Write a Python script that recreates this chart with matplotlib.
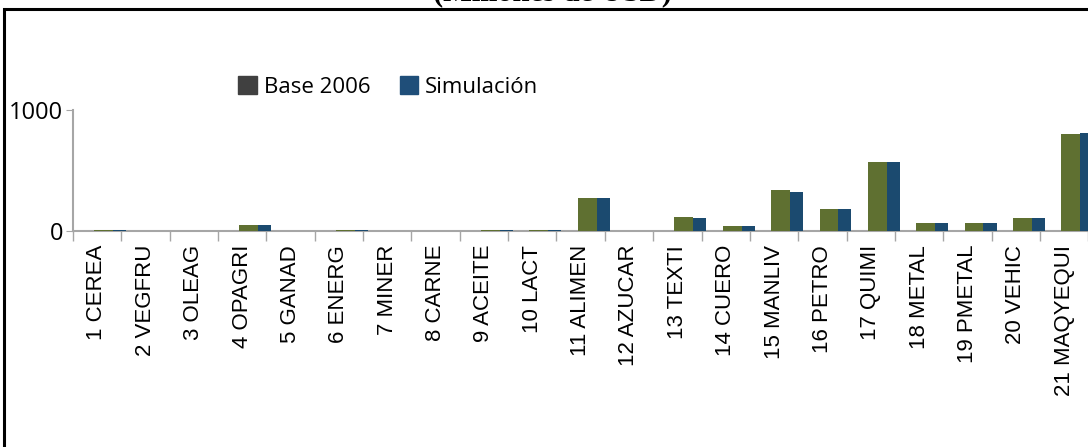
import numpy as np
import matplotlib
matplotlib.use('Agg')
import matplotlib.pyplot as plt
from matplotlib.patches import Patch, Rectangle

# sectors and values (millones de USD)
sectors = ['1 CEREA', '2 VEGFRU', '3 OLEAG', '4 OPAGRI', '5 GANAD', '6 ENERG',
           '7 MINER', '8 CARNE', '9 ACEITE', '10 LACT', '11 ALIMEN', '12 AZUCAR',
           '13 TEXTI', '14 CUERO', '15 MANLIV', '16 PETRO', '17 QUIMI', '18 METAL',
           '19 PMETAL', '20 VEHIC', '21 MAQYEQUI']
base_2006 = [12, 4, 4, 47, 4, 11, 4, 4, 12, 12, 271, 0, 112, 38, 342, 178, 574, 63, 63, 104, 803]
simulacion = [12, 4, 4, 47, 4, 11, 4, 4, 12, 12, 271, 0, 104, 38, 326, 178, 574, 63, 63, 104, 811]

green = '#5f7031'
blue = '#1b4a6f'
grey = '#a6a6a6'

fig = plt.figure(figsize=(10.88, 4.47), dpi=100)
ax = fig.add_axes([0.0669, 0.4832, 0.9335, 0.2707])

x = np.arange(len(sectors))
ax.bar(x - 0.06, base_2006, width=0.39, align='edge', color=green, zorder=3)
ax.bar(x + 0.33, simulacion, width=0.27, align='edge', color=blue, zorder=3)

ax.set_xlim(-0.5, len(sectors) - 0.5)
ax.set_ylim(0, 1000)
ax.set_yticks([0, 1000])
ax.set_yticklabels(['0', '1000'], fontsize=17, family='Open Sans')
ax.tick_params(axis='y', length=5, color=grey, pad=2)

ax.set_xticks(x)
ax.set_xticklabels(sectors, rotation=90, fontsize=16, family='Liberation Sans')
ax.tick_params(axis='x', which='major', length=0, pad=10)
ax.set_xticks(np.arange(len(sectors) + 1) - 0.5, minor=True)
ax.tick_params(axis='x', which='minor', length=7, color=grey, width=1)

for s in ['top', 'right']:
    ax.spines[s].set_visible(False)
for s in ['left', 'bottom']:
    ax.spines[s].set_color(grey)
    ax.spines[s].set_linewidth(1.5)

handles = [Patch(color='#404040', label='Base 2006'), Patch(color='#1f4e79', label='Simulación')]
fig.legend(handles=handles, loc='center', bbox_to_anchor=(0.357, 0.805), ncol=2,
           frameon=False, prop={'family': 'Open Sans', 'size': 16},
           handlelength=0.85, handleheight=0.85, handletextpad=0.3, columnspacing=1.3)

fig.text(0.508, 0.984, '(Millones de USD)', ha='center', va='bottom',
         fontsize=22, fontweight='bold', family='Liberation Serif')

fig.patches.append(Rectangle((0.0037, -0.02), 1.0, 1.0, transform=fig.transFigure,
                             fill=False, edgecolor='black', linewidth=2.2))

fig.savefig('out.png', dpi=100)
